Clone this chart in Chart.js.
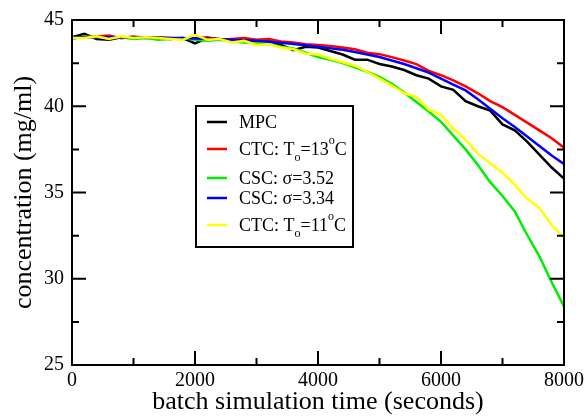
<!DOCTYPE html>
<html>
<head>
<meta charset="utf-8">
<script src="https://cdn.jsdelivr.net/npm/chart.js@4"></script>
<style>
  html, body { margin: 0; padding: 0; background: #fff; }
  #wrap { width: 588px; height: 416px; position: relative; }
</style>
</head>
<body>
<div id="wrap"><canvas id="chart"></canvas></div>
<script>
// time axis (seconds)
const times = [0, 200, 400, 600, 800, 1000, 1200, 1400, 1600, 1800, 2000, 2200, 2400, 2600, 2800, 3000,
  3200, 3400, 3600, 3800, 4000, 4200, 4400, 4600, 4800, 5000, 5200, 5400, 5600, 5800, 6000,
  6200, 6400, 6600, 6800, 7000, 7200, 7400, 7600, 7800, 8000];

const mpc = [44.0, 44.2, 43.9, 43.85, 44.0, 43.95, 44.0, 43.95, 43.9, 43.95, 43.65, 43.95, 43.9, 43.8, 43.85, 43.75,
  43.8, 43.55, 43.25, 43.45, 43.4, 43.2, 43.0, 42.7, 42.7, 42.45, 42.3, 42.1, 41.8, 41.6, 41.15,
  40.95, 40.3, 40.0, 39.75, 38.95, 38.6, 37.95, 37.2, 36.45, 35.8];

const ctc13 = [43.95, 44.0, 44.05, 44.1, 43.95, 44.05, 43.95, 44.0, 43.95, 43.9, 43.95, 44.0, 43.85, 43.9, 43.95, 43.85,
  43.9, 43.75, 43.7, 43.6, 43.55, 43.5, 43.4, 43.3, 43.1, 43.02, 42.85, 42.65, 42.44, 42.05, 41.8,
  41.5, 41.15, 40.75, 40.3, 39.95, 39.5, 39.05, 38.6, 38.15, 37.6];

const csc352 = [43.9, 44.05, 44.0, 43.95, 44.0, 43.9, 43.95, 43.85, 43.9, 43.95, 43.85, 43.8, 43.85, 43.75, 43.7, 43.65,
  43.6, 43.45, 43.35, 43.1, 42.85, 42.7, 42.5, 42.25, 42.0, 41.7, 41.3, 40.8, 40.25, 39.7, 39.1,
  38.3, 37.5, 36.6, 35.6, 34.8, 33.9, 32.55, 31.3, 29.8, 28.4];

const csc334 = [44.0, 44.0, 44.0, 44.0, 44.0, 43.99, 43.98, 43.97, 43.96, 43.95, 43.93, 43.91, 43.89, 43.86, 43.83, 43.79,
  43.74, 43.68, 43.61, 43.53, 43.45, 43.36, 43.27, 43.15, 43.0, 42.85, 42.65, 42.45, 42.2, 41.95, 41.6,
  41.25, 40.92, 40.4, 39.85, 39.3, 38.8, 38.25, 37.7, 37.15, 36.65];

const ctc11 = [43.95, 43.95, 44.05, 43.9, 44.05, 43.95, 44.0, 43.95, 43.9, 43.85, 44.15, 43.85, 43.9, 43.7, 43.8, 43.55,
  43.6, 43.4, 43.3, 43.05, 43.0, 42.75, 42.55, 42.35, 42.0, 41.6, 41.2, 40.75, 40.55, 39.8, 39.5,
  38.7, 38.05, 37.25, 36.7, 36.15, 35.45, 34.65, 34.1, 33.1, 32.4];

const xTicks = [0, 2000, 4000, 6000, 8000];
const yTicks = [25, 30, 35, 40, 45];

const FONT = '"Liberation Serif", "DejaVu Serif", serif';

const series = [
  { data: mpc, color: '#000000', label: [['MPC']] },
  { data: ctc13, color: '#ff0000', label: [['CTC: T'], ['o', 'sub'], ['=13'], ['o', 'sup'], ['C']] },
  { data: csc352, color: '#00ee00', label: [['CSC: \u03c3=3.52']] },
  { data: csc334, color: '#0000ff', label: [['CSC: \u03c3=3.34']] },
  { data: ctc11, color: '#ffff00', label: [['CTC: T'], ['o', 'sub'], ['=11'], ['o', 'sup'], ['C']] }
];

const datasets = series.map((s, i) => ({
  data: s.data.map((v, j) => ({ x: times[j], y: v })),
  borderColor: s.color,
  borderWidth: 2.5,
  pointRadius: 0,
  tension: 0,
  fill: false,
  order: i === 4 ? 0 : 5 - i
}));

// ticks pointing inward on all four sides, plus frame and legend
const framePlugin = {
  id: 'frame',
  afterDatasetsDraw(chart) {
    const { ctx, chartArea: a, scales } = chart;
    const xs = scales.x, ys = scales.y;
    ctx.save();
    ctx.strokeStyle = '#000';
    ctx.lineWidth = 2;
    ctx.strokeRect(a.left, a.top, a.right - a.left, a.bottom - a.top);
    ctx.beginPath();
    for (let v = 0; v <= 8000; v += 1000) {
      const px = xs.getPixelForValue(v);
      const len = v % 2000 === 0 ? 14 : 7;
      ctx.moveTo(px, a.bottom); ctx.lineTo(px, a.bottom - len);
      ctx.moveTo(px, a.top); ctx.lineTo(px, a.top + len);
    }
    for (let v = 25; v <= 45; v += 2.5) {
      const py = ys.getPixelForValue(v);
      const len = v % 5 === 0 ? 14 : 7;
      ctx.moveTo(a.left, py); ctx.lineTo(a.left + len, py);
      ctx.moveTo(a.right, py); ctx.lineTo(a.right - len, py);
    }
    ctx.stroke();

    // legend box
    const bx = 196, by = 106, bw = 157, bh = 141;
    ctx.fillStyle = '#fff';
    ctx.fillRect(bx, by, bw, bh);
    ctx.strokeRect(bx, by, bw, bh);
    const rows = [122, 149, 178, 198, 225];
    ctx.textBaseline = 'middle';
    series.forEach((s, i) => {
      const y = rows[i];
      ctx.strokeStyle = s.color;
      ctx.lineWidth = 2.5;
      ctx.beginPath();
      ctx.moveTo(207, y); ctx.lineTo(227, y);
      ctx.stroke();
      let x = 239;
      ctx.fillStyle = '#000';
      s.label.forEach(([txt, kind]) => {
        if (kind === 'sub') {
          ctx.font = '12px ' + FONT;
          ctx.fillText(txt, x, y + 9);
        } else if (kind === 'sup') {
          ctx.font = '12px ' + FONT;
          ctx.fillText(txt, x, y - 8);
        } else {
          ctx.font = '18px ' + FONT;
          ctx.fillText(txt, x, y + 1);
        }
        x += ctx.measureText(txt).width;
      });
    });
    ctx.restore();
  }
};

new Chart(document.getElementById('chart'), {
  type: 'line',
  data: { datasets },
  options: {
    responsive: true,
    maintainAspectRatio: false,
    animation: false,
    layout: { padding: { top: 19, right: 21, left: 0, bottom: 0 } },
    plugins: { legend: { display: false }, tooltip: { enabled: false } },
    scales: {
      x: {
        type: 'linear',
        min: 0, max: 8000,
        afterBuildTicks: s => { s.ticks = xTicks.map(v => ({ value: v })); },
        afterFit: s => { s.height = 51; },
        grid: { display: false, drawTicks: false },
        border: { display: false },
        ticks: { color: '#000', font: { family: FONT, size: 20 }, padding: 4, maxRotation: 0,
          callback: v => String(v) },
        title: { display: true, text: 'batch simulation time (seconds)', color: '#000',
          font: { family: FONT, size: 26 }, padding: { top: 0, bottom: -2 } }
      },
      y: {
        min: 25, max: 45,
        afterBuildTicks: s => { s.ticks = yTicks.map(v => ({ value: v })); },
        afterFit: s => { s.width = 72; },
        grid: { display: false, drawTicks: false },
        border: { display: false },
        ticks: { color: '#000', font: { family: FONT, size: 20 }, padding: 8,
          callback: v => String(v) },
        title: { display: true, text: 'concentration (mg/ml)', color: '#000',
          font: { family: FONT, size: 26 }, padding: { top: 9, bottom: 0 } }
      }
    }
  },
  plugins: [framePlugin]
});
</script>
</body>
</html>
